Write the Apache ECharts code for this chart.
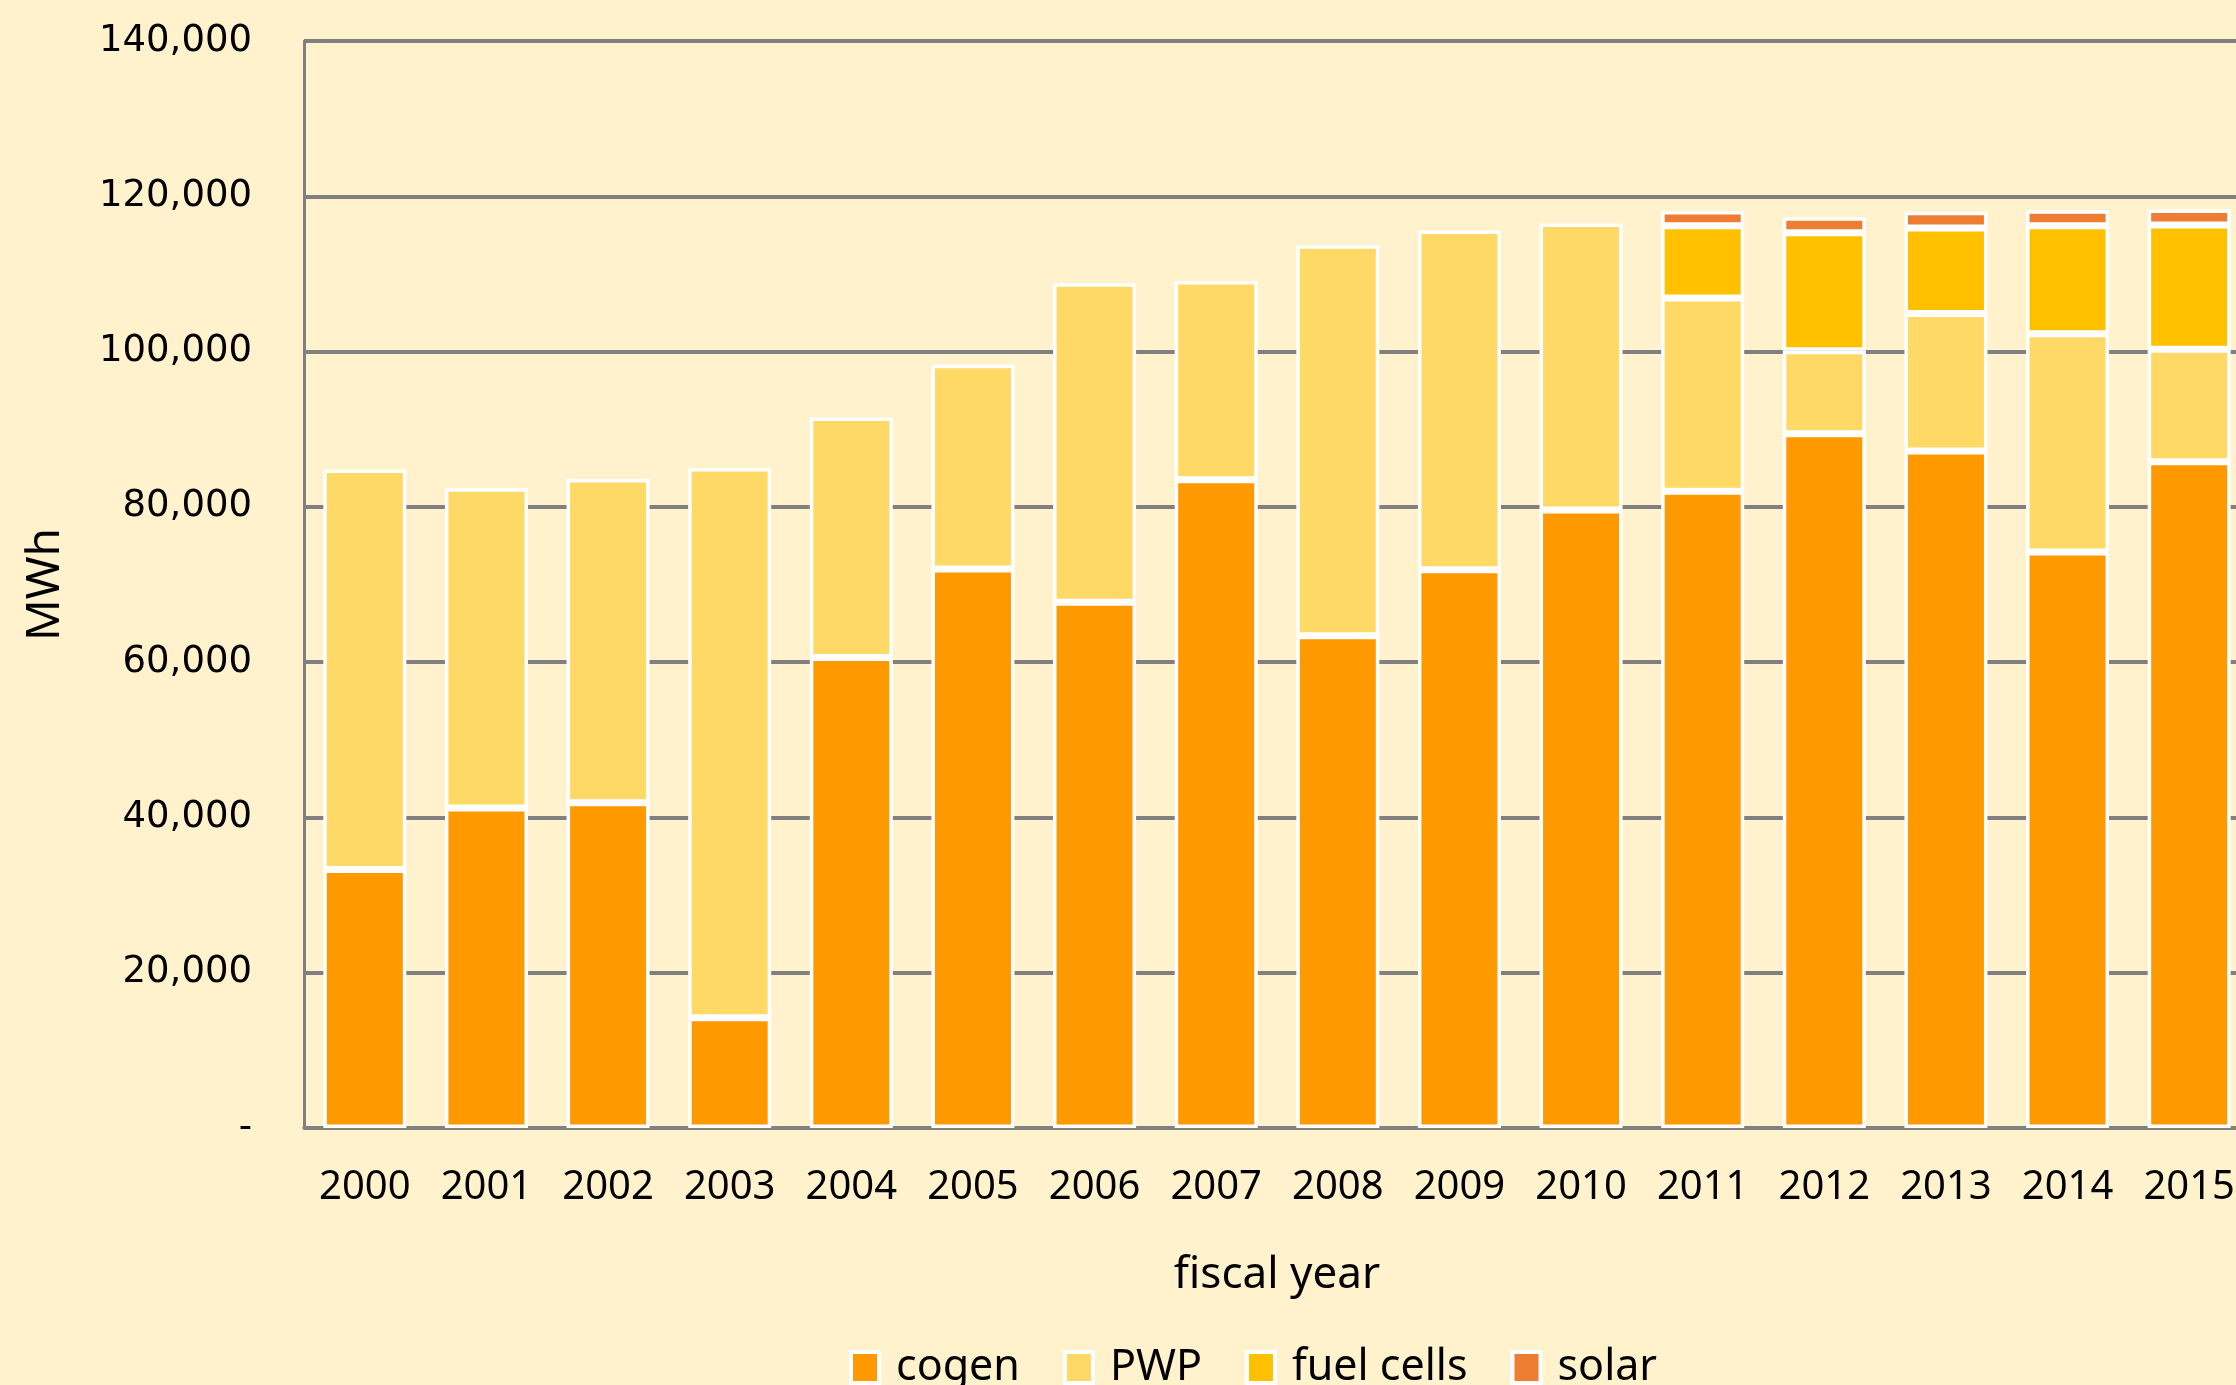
<!DOCTYPE html>
<html>
<head>
<meta charset="utf-8">
<title>Electricity generation by source</title>
<script src="https://cdn.jsdelivr.net/npm/echarts@6/dist/echarts.min.js"></script>
<style>
    html, body { margin: 0; padding: 0; background: #fff2cc; overflow: hidden; }
    /* the plot runs a little past the right edge of the picture, as in the original */
    #chart { width: 2250px; height: 1385px; }
</style>
</head>
<body>
<div id="chart"></div>
<script>
// fiscal years on the x axis
var years = ['2000', '2001', '2002', '2003', '2004', '2005', '2006', '2007',
             '2008', '2009', '2010', '2011', '2012', '2013', '2014', '2015'];

// MWh per source
var cogen     = [33300, 41200, 41900, 14200, 60600, 72000, 67700, 83500,
                 63400, 71900, 79600, 82000, 89400, 87200, 74200, 85800];
var pwp       = [51500, 41200, 41700, 70800, 30900, 26300, 41100, 25600,
                 50300, 43700, 36900, 24900, 10700, 17700, 28100, 14500];
var fuelCells = [null, null, null, null, null, null, null, null,
                 null, null, null, 9300, 15200, 11000, 13900, 16000];
var solar     = [null, null, null, null, null, null, null, null,
                 null, null, null, 1900, 2000, 2100, 2000, 2000];

var yTicks = [0, 20000, 40000, 60000, 80000, 100000, 120000, 140000];

(function () {
    var chart = echarts.init(document.getElementById('chart'));

    // echarts keeps the border inside the bar, so width = colour + 2 * border
    function seg(name, data, color) {
        return {
            name: name, type: 'bar', stack: 'total', data: data,
            barWidth: 83,
            itemStyle: { color: color, borderColor: '#ffffff', borderWidth: 3.5 }
        };
    }

    chart.setOption({
        backgroundColor: '#fff2cc',
        animation: false,
        grid: { left: 304, top: 41, right: 0, bottom: 257, containLabel: false },
        legend: {
            data: ['cogen', 'PWP', 'fuel cells', 'solar'],
            left: 844,
            top: 1341,
            itemWidth: 28,
            itemHeight: 31,
            itemGap: 43,
            icon: 'rect',
            itemStyle: { borderColor: '#ffffff', borderWidth: 4 },
            textStyle: { fontFamily: 'Noto Sans', fontSize: 43, color: '#000', padding: [0, 0, 0, 12] }
        },
        xAxis: {
            type: 'category',
            data: years,
            name: 'fiscal year',
            nameLocation: 'middle',
            nameGap: 125,
            nameTextStyle: { fontFamily: 'Noto Sans', fontSize: 44, color: '#000' },
            axisLine: { lineStyle: { color: '#808080', width: 3.5 } },
            axisTick: { show: false },
            axisLabel: { fontFamily: 'Noto Sans', fontSize: 40, color: '#000', margin: 40, interval: 0 }
        },
        yAxis: {
            type: 'value',
            min: yTicks[0],
            max: yTicks[yTicks.length - 1],
            interval: 20000,
            name: 'MWh',
            nameLocation: 'middle',
            nameGap: 235,
            nameTextStyle: { fontFamily: 'Noto Sans', fontSize: 46, color: '#000' },
            axisLine: { show: true, lineStyle: { color: '#808080', width: 3 } },
            axisTick: { show: false },
            splitLine: { lineStyle: { color: '#808080', width: 4 } },
            axisLabel: {
                fontFamily: 'DejaVu Sans', fontSize: 37, color: '#000', margin: 52,
                formatter: function (v) {
                    return v === 0 ? '-' : v.toLocaleString('en-US');
                }
            }
        },
        series: [
            seg('cogen', cogen, '#ff9900'),
            seg('PWP', pwp, '#ffd966'),
            seg('fuel cells', fuelCells, '#ffc000'),
            seg('solar', solar, '#ed7d31')
        ]
    });
})();
</script>
</body>
</html>
